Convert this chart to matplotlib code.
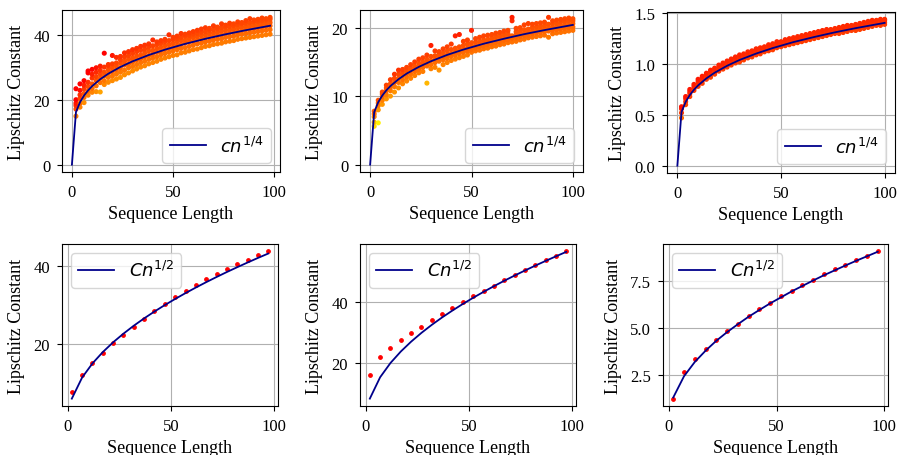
import numpy as np
import matplotlib
matplotlib.use("Agg")
import matplotlib.pyplot as plt

plt.rcParams['font.family'] = ['Liberation Serif', 'DejaVu Serif']
plt.rcParams['mathtext.fontset'] = 'dejavusans'

# ---- top row: sampled Lipschitz constants + fitted c n^(1/4) ----
seq_a = list(range(2, 100, 2))
samples_a = [
    [15.0, 17.2, 18.3, 19.0, 20.1, 23.5], [17.8, 19.0, 20.5, 21.6, 23.0, 25.0],
    [19.2, 20.8, 22.0, 23.4, 24.6, 26.0], [21.5, 22.8, 24.2, 25.5, 28.4, 29.0],
    [22.4, 23.6, 25.0, 26.8, 28.0, 29.5], [22.6, 24.4, 26.0, 27.2, 28.6, 30.0],
    [22.5, 25.4, 26.8, 28.0, 29.2, 30.5], [24.8, 26.0, 27.5, 28.6, 30.2, 34.5],
    [25.5, 27.0, 28.3, 29.4, 30.6, 31.0], [26.0, 27.4, 28.8, 30.0, 31.2, 33.8],
    [26.5, 28.0, 29.4, 30.6, 31.5, 33.2], [27.0, 28.6, 30.0, 31.4, 32.5, 33.5],
    [27.8, 29.2, 30.8, 32.0, 33.4, 34.6], [28.4, 30.0, 31.2, 32.6, 33.8, 35.0],
    [29.0, 30.4, 31.8, 33.0, 34.4, 35.6], [29.6, 31.0, 32.4, 33.6, 35.0, 36.0],
    [30.2, 31.6, 32.8, 34.0, 35.4, 36.6], [30.6, 32.0, 33.4, 34.6, 35.8, 37.0],
    [31.2, 32.6, 33.8, 35.2, 36.4, 37.4], [31.6, 33.0, 34.2, 35.4, 36.8, 38.6],
    [32.0, 33.4, 34.8, 36.0, 37.2, 38.0], [32.6, 34.0, 35.2, 36.4, 37.6, 38.4],
    [33.0, 34.4, 35.6, 36.8, 38.0, 38.8], [33.4, 34.8, 36.0, 37.2, 38.4, 40.2],
    [33.8, 35.2, 36.4, 37.6, 38.8, 39.4], [34.0, 35.6, 36.8, 38.0, 39.0, 39.8],
    [34.6, 36.0, 37.2, 38.4, 39.4, 40.6], [34.8, 36.2, 37.6, 38.6, 39.8, 40.4],
    [35.2, 36.6, 38.0, 39.0, 40.0, 40.8], [35.6, 37.0, 38.2, 39.4, 40.4, 41.2],
    [35.8, 37.4, 38.6, 39.6, 40.6, 41.6], [36.2, 37.6, 38.8, 40.0, 41.0, 42.0],
    [36.6, 38.0, 39.2, 40.2, 41.2, 42.4], [36.8, 38.2, 39.4, 40.6, 41.6, 42.2],
    [37.2, 38.6, 39.8, 40.8, 41.8, 43.0], [37.4, 38.8, 40.0, 41.0, 42.0, 42.6],
    [37.6, 39.0, 40.2, 41.4, 42.4, 43.6], [38.0, 39.4, 40.6, 41.6, 42.6, 43.2],
    [38.2, 39.6, 40.8, 41.8, 42.8, 43.8], [38.4, 39.8, 41.0, 42.0, 43.0, 43.6],
    [38.8, 40.2, 41.2, 42.4, 43.4, 44.2], [39.0, 40.4, 41.6, 42.6, 43.6, 44.0],
    [39.2, 40.6, 41.8, 42.8, 43.8, 44.6], [39.4, 40.8, 42.0, 43.0, 44.0, 45.2],
    [39.6, 41.0, 42.2, 43.2, 44.2, 44.8], [39.8, 41.2, 42.4, 43.4, 44.4, 45.0],
    [40.0, 41.4, 42.6, 43.6, 44.6, 45.4], [40.2, 41.6, 42.8, 43.8, 44.8, 45.2],
    [40.4, 41.8, 43.0, 44.0, 45.0, 45.6],
]
fit_x_a = [0, 2, 4, 6, 8, 10, 14, 18, 24, 30, 38, 46, 56, 66, 76, 86, 98]
fit_y_a = [0, 16.26, 19.33, 21.39, 22.99, 24.31, 26.44, 28.16, 30.25, 31.99,
           33.94, 35.60, 37.40, 38.96, 40.36, 41.63, 43.01]

seq_b = list(range(2, 101, 2))
samples_b = [
    [5.6, 6.2, 7.0, 7.4, 7.8], [6.1, 8.0, 8.6, 9.0, 9.4], [8.8, 9.4, 9.9, 10.3, 10.6],
    [9.6, 10.2, 10.8, 11.2, 11.6], [10.0, 10.8, 11.3, 11.8, 12.4],
    [10.6, 11.4, 12.0, 12.6, 13.2], [11.2, 12.0, 12.6, 13.2, 13.8],
    [11.8, 12.4, 13.0, 13.5, 13.9], [12.2, 12.8, 13.3, 13.8, 14.2],
    [12.6, 13.2, 13.7, 14.1, 14.6], [13.0, 13.6, 14.0, 14.4, 15.0],
    [13.4, 13.9, 14.3, 14.8, 15.4], [13.6, 14.2, 14.6, 15.0, 15.6],
    [11.9, 14.4, 14.9, 15.4, 16.0], [14.0, 14.6, 15.2, 15.8, 17.4],
    [14.2, 14.9, 15.4, 15.9, 16.6], [13.8, 15.1, 15.6, 16.1, 16.5],
    [14.6, 15.3, 15.8, 16.3, 16.9], [14.9, 15.5, 16.0, 16.6, 17.2],
    [15.2, 15.8, 16.2, 16.8, 17.6], [15.4, 16.0, 16.5, 17.0, 18.8],
    [15.6, 16.2, 16.7, 17.2, 19.0], [15.8, 16.4, 16.9, 17.4, 18.0],
    [16.0, 16.6, 17.0, 17.6, 18.2], [16.4, 16.8, 17.3, 17.8, 19.6],
    [16.6, 17.0, 17.4, 17.9, 18.4], [16.7, 17.2, 17.6, 18.0, 18.6],
    [16.9, 17.3, 17.8, 18.2, 18.8], [17.0, 17.5, 17.9, 18.3, 18.9],
    [17.2, 17.6, 18.1, 18.5, 19.0], [17.3, 17.8, 18.2, 18.7, 19.2],
    [17.5, 17.9, 18.4, 18.8, 19.3], [17.6, 18.1, 18.5, 19.0, 19.5],
    [17.8, 18.2, 18.7, 19.1, 19.6], [17.9, 18.4, 18.8, 21.0, 21.5],
    [18.0, 18.5, 19.0, 19.4, 19.9], [18.2, 18.7, 19.1, 19.5, 20.0],
    [18.3, 18.8, 19.2, 19.7, 20.4], [18.5, 18.9, 19.4, 19.8, 20.6],
    [18.6, 19.1, 19.5, 20.0, 20.5], [18.7, 19.2, 19.6, 20.1, 20.6],
    [18.8, 19.3, 19.8, 20.2, 20.7], [18.9, 19.4, 19.9, 20.3, 20.8],
    [18.6, 19.5, 20.0, 20.5, 21.5], [19.1, 19.6, 20.1, 20.6, 21.0],
    [19.2, 19.7, 20.2, 20.6, 21.1], [19.3, 19.8, 20.3, 20.8, 21.2],
    [19.4, 19.9, 20.4, 20.9, 21.3], [19.5, 20.0, 20.5, 21.0, 21.4],
    [19.6, 20.1, 20.6, 21.0, 21.3],
]
fit_x_b = [0, 2, 4, 6, 8, 10, 14, 18, 24, 30, 38, 46, 56, 66, 76, 86, 100]
fit_y_b = [0, 7.67, 9.12, 10.09, 10.85, 11.47, 12.47, 13.29, 14.27, 15.09,
           16.02, 16.80, 17.65, 18.38, 19.05, 19.64, 20.40]

seq_c = list(range(2, 101, 2))
samples_c = [
    [0.47, 0.52, 0.56, 0.58], [0.60, 0.63, 0.66, 0.68], [0.68, 0.71, 0.73, 0.75],
    [0.74, 0.76, 0.78, 0.80], [0.78, 0.80, 0.83, 0.85], [0.81, 0.84, 0.86, 0.88],
    [0.85, 0.87, 0.89, 0.91], [0.87, 0.90, 0.92, 0.94], [0.90, 0.92, 0.95, 0.96],
    [0.93, 0.95, 0.97, 0.99], [0.95, 0.97, 0.99, 1.01], [0.97, 0.99, 1.01, 1.03],
    [0.99, 1.01, 1.03, 1.05], [1.01, 1.03, 1.05, 1.07], [1.02, 1.05, 1.07, 1.09],
    [1.04, 1.06, 1.08, 1.10], [1.06, 1.08, 1.10, 1.12], [1.07, 1.09, 1.11, 1.13],
    [1.09, 1.11, 1.13, 1.15], [1.10, 1.12, 1.14, 1.16], [1.12, 1.14, 1.16, 1.17],
    [1.13, 1.15, 1.17, 1.19], [1.14, 1.16, 1.18, 1.20], [1.16, 1.18, 1.20, 1.22],
    [1.17, 1.19, 1.21, 1.22], [1.18, 1.20, 1.22, 1.24], [1.19, 1.21, 1.23, 1.25],
    [1.20, 1.22, 1.24, 1.26], [1.21, 1.23, 1.25, 1.27], [1.22, 1.24, 1.26, 1.28],
    [1.23, 1.25, 1.27, 1.29], [1.24, 1.26, 1.28, 1.30], [1.25, 1.27, 1.29, 1.31],
    [1.26, 1.28, 1.30, 1.32], [1.27, 1.29, 1.31, 1.33], [1.28, 1.30, 1.32, 1.34],
    [1.29, 1.31, 1.33, 1.34], [1.30, 1.32, 1.34, 1.35], [1.30, 1.33, 1.35, 1.36],
    [1.31, 1.33, 1.35, 1.37], [1.32, 1.34, 1.36, 1.38], [1.33, 1.35, 1.37, 1.38],
    [1.33, 1.36, 1.38, 1.39], [1.34, 1.36, 1.38, 1.40], [1.35, 1.37, 1.39, 1.41],
    [1.36, 1.38, 1.40, 1.42], [1.37, 1.39, 1.41, 1.43], [1.38, 1.40, 1.42, 1.43],
    [1.38, 1.40, 1.42, 1.44], [1.39, 1.41, 1.43, 1.44],
]
fit_x_c = [0, 2, 4, 6, 8, 10, 14, 18, 24, 30, 38, 46, 56, 66, 76, 86, 100]
fit_y_c = [0, 0.528, 0.628, 0.695, 0.747, 0.790, 0.859, 0.915, 0.983, 1.040,
           1.103, 1.157, 1.216, 1.266, 1.312, 1.353, 1.405]

# ---- bottom row: averaged constants + fitted C n^(1/2) ----
seq_len = [2, 7, 12, 17, 22, 27, 32, 37, 42, 47, 52, 57, 62, 67, 72, 77, 82, 87, 92, 97]
mean_d = [7.9, 12.1, 15.3, 17.9, 20.2, 22.3, 24.4, 26.5, 28.4, 30.2,
          31.9, 33.5, 35.0, 36.5, 37.8, 39.1, 40.3, 41.5, 42.6, 43.6]
fit_d = [6.18, 11.56, 15.14, 18.02, 20.50, 22.70, 24.72, 26.58, 28.32, 29.96,
         31.51, 32.99, 34.41, 35.77, 37.08, 38.35, 39.57, 40.76, 41.92, 43.04]
mean_e = [16.0, 21.8, 25.0, 27.5, 29.7, 31.9, 34.0, 36.0, 38.0, 40.0,
          41.9, 43.6, 45.4, 47.2, 48.9, 50.5, 52.2, 53.8, 55.3, 56.8]
fit_e = [8.13, 15.21, 19.92, 23.71, 26.97, 29.88, 32.53, 34.98, 37.26, 39.42,
         41.46, 43.41, 45.28, 47.07, 48.79, 50.46, 52.07, 53.63, 55.15, 56.63]
mean_f = [1.24, 2.66, 3.34, 3.89, 4.37, 4.82, 5.23, 5.63, 6.00, 6.35,
          6.68, 6.98, 7.29, 7.57, 7.85, 8.12, 8.37, 8.62, 8.85, 9.08]
fit_f = [1.30, 2.43, 3.19, 3.79, 4.32, 4.78, 5.20, 5.60, 5.96, 6.31,
         6.63, 6.95, 7.24, 7.53, 7.81, 8.07, 8.33, 8.58, 8.82, 9.06]

fig = plt.figure(figsize=(8.97, 4.56), dpi=100)
W, H = 897, 456


def box(l, r, t, b):
    return [l / W, 1 - b / H, (r - l) / W, (b - t) / H]


def style(ax, yt):
    ax.set_yticks(yt)
    ax.set_xticks([0, 50, 100])
    ax.grid(True)
    ax.set_axisbelow(True)
    ax.set_xlabel('Sequence Length', fontsize=13, labelpad=4)
    ax.set_ylabel('Lipschitz Constant', fontsize=13, labelpad=6)
    ax.tick_params(labelsize=12, pad=5)


top_boxes = [box(62, 280, 11, 173), box(360, 583, 11, 173), box(667, 895, 13, 174)]
bot_boxes = [box(62, 278, 245, 407), box(360, 576, 245, 407), box(663, 888, 245, 407)]

top_sets = [(seq_a, samples_a, fit_x_a, fit_y_a, 0.38, [0, 20, 40]),
            (seq_b, samples_b, fit_x_b, fit_y_b, 0.38, [0, 10, 20]),
            (seq_c, samples_c, fit_x_c, fit_y_c, 0.22, [0, 0.5, 1.0, 1.5])]

for pos, (sx, sy, fx, fy, base, yt) in zip(top_boxes, top_sets):
    ax = fig.add_axes(pos)
    px = np.repeat(sx, [len(c) for c in sy])
    py = np.concatenate(sy)
    ref = np.interp(px, fx, fy)
    shade = np.clip(base + 1.7 * (ref - py) / ref, 0, 1)
    ax.scatter(px, py, c=shade, cmap='autumn', vmin=0, vmax=1, s=7, zorder=2)
    ax.plot(fx, fy, color='darkblue', lw=1.3, label=r'$cn^{1/4}$', zorder=3)
    ax.legend(loc='lower right', fontsize=13)
    style(ax, yt)

bot_sets = [(mean_d, fit_d, [20, 40]), (mean_e, fit_e, [20, 40]),
            (mean_f, fit_f, [2.5, 5.0, 7.5])]

for pos, (dots, fit, yt) in zip(bot_boxes, bot_sets):
    ax = fig.add_axes(pos)
    ax.scatter(seq_len, dots, color='red', s=6, zorder=2)
    ax.plot(seq_len, fit, color='darkblue', lw=1.3, label=r'$Cn^{1/2}$', zorder=3)
    ax.legend(loc='upper left', fontsize=13)
    style(ax, yt)

plt.savefig('out.png', dpi=100)
